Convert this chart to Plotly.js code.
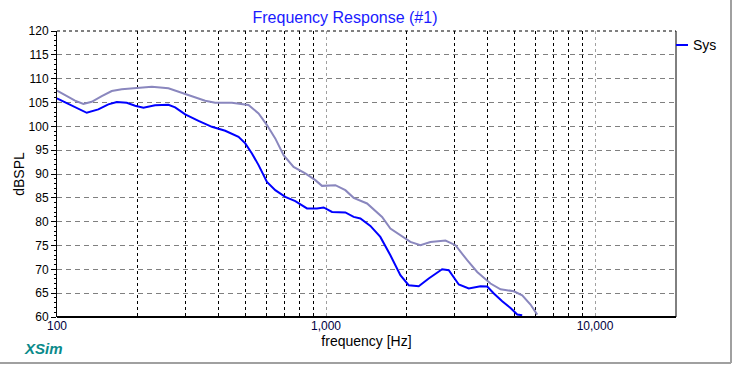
<!DOCTYPE html>
<html>
<head>
<meta charset="utf-8">
<script src="https://cdn.plot.ly/plotly-3.0.1.min.js"></script>
<style>
  html, body { margin: 0; padding: 0; background: #ffffff; }
  #chart { width: 733px; height: 365px; }
</style>
</head>
<body>
<div id="chart"></div>
<script>
// Sys response (blue)
const freqSys = [100, 110.2, 120.0, 129.0, 142.4, 155.2, 166.8, 181.7, 195.1, 209.6, 231.5, 259.5, 274.9, 299.6, 335.8, 376.5, 421.9, 472.9, 501, 530.4, 561.4, 603.2, 647.6, 705.5, 768.8, 849.9, 925.8, 979.7, 1053, 1180, 1267, 1342, 1462, 1592, 1735, 1890, 2029, 2211, 2409, 2702, 2860, 3116, 3394, 3752, 3974, 4206, 4519, 4852, 5138, 5362];
const splSys  = [105.87, 104.67, 103.56, 102.84, 103.56, 104.61, 105.09, 104.94, 104.31, 103.89, 104.4, 104.52, 103.98, 102.51, 101.16, 99.9, 99.06, 97.8, 96.42, 94.32, 91.86, 88.35, 86.61, 85.2, 84.3, 82.77, 82.77, 82.98, 82.05, 81.93, 81.0, 80.67, 79.11, 76.8, 72.96, 68.76, 66.66, 66.45, 68.07, 70.02, 69.81, 66.81, 65.97, 66.45, 66.39, 64.92, 63.3, 61.89, 60.51, 60.36];

// Second response (grey-violet)
const freqAlt = [100, 107.1, 116.7, 125.3, 134.6, 146.7, 159.8, 174.1, 195.1, 225.2, 259.5, 291.1, 326.2, 355.4, 387.3, 446.9, 515, 561.4, 603.2, 647.6, 695.5, 757.5, 837.5, 912.6, 966.3, 1083, 1180, 1267, 1421, 1616, 1735, 1890, 2059, 2244, 2444, 2780, 3029, 3348, 3648, 4088, 4454, 4992, 5362, 5757, 6099];
const splAlt  = [107.5, 106.6, 105.4, 104.7, 105.15, 106.35, 107.4, 107.8, 108.0, 108.3, 107.97, 107.04, 106.2, 105.36, 104.94, 104.94, 104.46, 102.72, 100.26, 97.47, 93.96, 91.5, 90.12, 88.71, 87.51, 87.66, 86.61, 85.0, 83.82, 81.0, 78.57, 77.16, 75.75, 75.06, 75.75, 76.05, 75.06, 71.91, 69.45, 67.02, 65.82, 65.4, 64.56, 62.61, 60.51];

// Axis ticks
const xTickVals = [100, 1000, 10000];
const xTickText = ['100', '1,000', '10,000'];
const xMinorVals = [200, 300, 400, 500, 600, 700, 800, 900, 2000, 3000, 4000, 5000, 6000, 7000, 8000, 9000];
const yRange = [60, 120];
const xRange = [100, 20000];

const seriesName = 'Sys';
const titleText = 'Frequency Response (#1)';

const traces = [
  {
    x: freqAlt, y: splAlt, type: 'scatter', mode: 'lines',
    line: { color: '#8a87be', width: 2 }, showlegend: false, hoverinfo: 'skip'
  },
  {
    x: freqSys, y: splSys, type: 'scatter', mode: 'lines', name: seriesName,
    line: { color: '#0000ff', width: 2 }, showlegend: false
  }
];

const W = 733, H = 365, ml = 57, mr = 57, mt = 31, mb = 48;
const pw = W - ml - mr, ph = H - mt - mb;
const px = (p) => (p - ml) / pw;          // pixel -> paper x
const py = (p) => 1 - (p - mt) / ph;      // pixel -> paper y

const layout = {
  width: W, height: H,
  margin: { l: ml, r: mr, t: mt, b: mb, pad: 0 },
  paper_bgcolor: '#ffffff', plot_bgcolor: '#ffffff',
  font: { family: 'Liberation Sans, Arial, sans-serif', size: 12, color: '#000000' },
  showlegend: false,
  title: {
    text: titleText,
    font: { family: 'Liberation Sans, Arial, sans-serif', size: 16, color: '#1a1aff' },
    x: 345 / W, xanchor: 'center', xref: 'container',
    y: 1 - 17 / H, yanchor: 'middle', yref: 'container'
  },
  xaxis: {
    type: 'log',
    range: [Math.log10(xRange[0]), Math.log10(xRange[1])],
    tickmode: 'array', tickvals: xTickVals, ticktext: xTickText,
    ticks: '', tickfont: { size: 12, color: '#000040' },
    showgrid: true, gridcolor: '#a0a0a0', griddash: 'dot', gridwidth: 1,
    minor: { tickmode: 'array', tickvals: xMinorVals, showgrid: true, gridcolor: '#000000', griddash: 'dot', gridwidth: 1, ticks: '' },
    zeroline: false, showline: false,
    title: { text: 'frequency [Hz]', font: { size: 14, color: '#000000' }, standoff: 4 },
    fixedrange: true
  },
  yaxis: {
    range: yRange,
    tickmode: 'linear', tick0: 60, dtick: 5,
    ticks: 'outside', ticklen: 5, tickcolor: '#000000', tickwidth: 1,
    tickfont: { size: 12, color: '#000000' },
    showgrid: true, gridcolor: '#808080', griddash: '5px,4px', gridwidth: 1,
    minor: { dtick: 1, ticks: 'outside', ticklen: 2, tickcolor: '#000000', showgrid: false },
    zeroline: false, showline: true, linecolor: '#000000', linewidth: 1,
    title: { text: 'dBSPL', font: { size: 14, color: '#000000' }, standoff: 0 },
    fixedrange: true
  },
  shapes: [
    // plot frame
    { type: 'line', xref: 'paper', yref: 'paper', x0: 0, x1: 1, y0: 1, y1: 1, line: { color: '#000000', width: 1, dash: 'dot' } },
    { type: 'line', xref: 'paper', yref: 'paper', x0: 1, x1: 1, y0: 0, y1: 1, line: { color: '#000000', width: 1 } },
    { type: 'line', xref: 'paper', yref: 'paper', x0: 0, x1: 1, y0: 0, y1: 0, line: { color: '#000000', width: 2 } },
    // window border
    { type: 'line', xref: 'paper', yref: 'paper', x0: px(731), x1: px(731), y0: py(0), y1: py(363), line: { color: '#a0a0a0', width: 2 } },
    { type: 'line', xref: 'paper', yref: 'paper', x0: px(0), x1: px(731), y0: py(363), y1: py(363), line: { color: '#a0a0a0', width: 2 } },
    // legend sample
    { type: 'line', xref: 'paper', yref: 'paper', x0: px(676), x1: px(688), y0: py(45), y1: py(45), line: { color: '#0000ff', width: 2 } }
  ],
  annotations: [
    { text: seriesName, xref: 'paper', yref: 'paper', x: px(691), y: py(45), xanchor: 'left', yanchor: 'middle', showarrow: false, font: { size: 14, color: '#000000' } },
    { text: '<b><i>XSim</i></b>', xref: 'paper', yref: 'paper', x: px(22), y: py(348), xanchor: 'left', yanchor: 'middle', showarrow: false, font: { size: 15, color: '#0a8a8a' } }
  ]
};

Plotly.newPlot('chart', traces, layout, { staticPlot: true, displayModeBar: false });
</script>
</body>
</html>
